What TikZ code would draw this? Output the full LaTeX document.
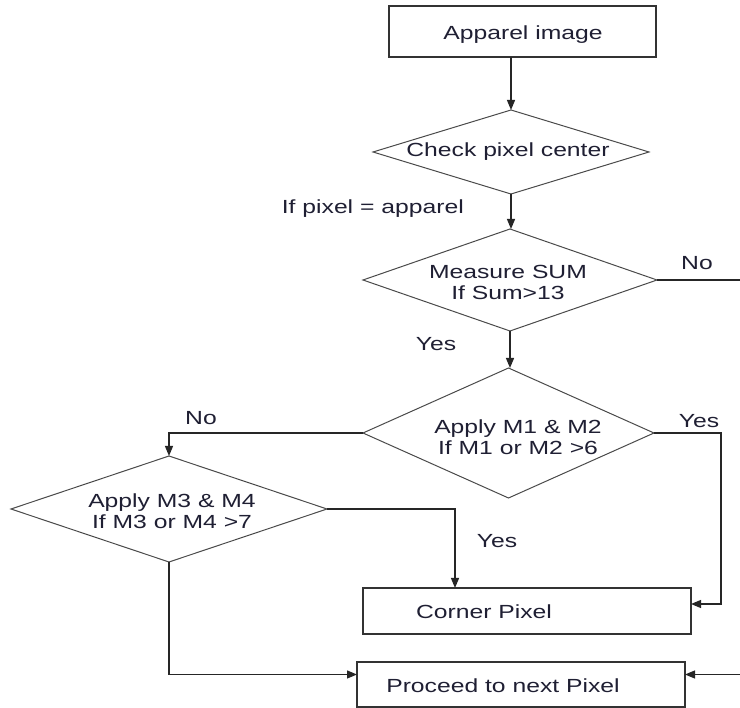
\documentclass[tikz,border=0pt]{standalone}
\usepackage{fontspec}
\setmainfont{Liberation Sans}[FakeStretch=1.3]
\usetikzlibrary{shapes.geometric,arrows.meta}

\definecolor{ink}{HTML}{1F1F33}
\definecolor{boxline}{HTML}{333333}
\definecolor{dline}{HTML}{4A4A4A}

\begin{document}
\begin{tikzpicture}[x=1pt,y=-1pt,
  txt/.style={font=\fontsize{19}{21}\selectfont, text=ink, inner sep=0pt, align=center},
  box/.style={draw=boxline, line width=1.3pt, rectangle, inner sep=0pt, outer sep=0pt},
  decision/.style={draw=dline, line width=1pt, diamond, inner sep=0pt, outer sep=0pt},
  flow/.style={draw=black!85, line width=1.2pt, -{Triangle[length=10pt,width=8pt]}},
  plain/.style={draw=black!85, line width=1.2pt}]

\useasboundingbox[fill=white] (0,0) rectangle (740,708);

% process boxes
\node[box, minimum width=267pt, minimum height=51pt] (src) at (522.5,31.5) {};
\node[txt] (srctxt) at (523,35) {Apparel image};

\node[box, minimum width=328pt, minimum height=46pt] (corner) at (527,611) {};
\node[txt] (cornertxt) at (484,612) {Corner Pixel};

\node[box, minimum width=328pt, minimum height=45pt] (proceed) at (521,684.5) {};
\node[txt] (proceedtxt) at (503,686) {Proceed to next Pixel};

% decisions
\node[decision, minimum width=276pt, minimum height=84pt] (d1) at (511,152) {};
\node[txt] (d1txt) at (508,152) {Check pixel center};

\node[decision, minimum width=294pt, minimum height=102pt] (d2) at (510,280) {};
\node[txt] (d2txt) at (508,282) {Measure SUM\\If Sum>13};

\node[decision, minimum width=291pt, minimum height=130pt] (d3) at (508.5,433) {};
\node[txt] (d3txt) at (518,437) {Apply M1 \& M2\\If M1 or M2 >6};

\node[decision, minimum width=316pt, minimum height=106pt] (d4) at (169,509) {};
\node[txt] (d4txt) at (172,511) {Apply M3 \& M4\\If M3 or M4 >7};

% loose ends at the right margin
\coordinate (exitR) at (740,280);
\coordinate (bendR) at (721,433);
\coordinate (feedR) at (740,674.5);

% connectors
\draw[flow] (src.south -| d1.north) -- (d1.north);
\draw[flow] (d1.south) -- (d1.south |- d2.north);
\draw[plain] (d2.east) -- (exitR);
\draw[flow] (d2.south) -- (d2.south |- d3.north);
\draw[flow] (d3.west) -| (d4.north);
\draw[flow] (d3.east) -- (bendR) |- ([yshift=7pt]corner.east);
\draw[flow] (d4.east) -| ([xshift=-72pt]corner.north);
\draw[flow] (d4.south) |- ([yshift=10pt]proceed.west);
\draw[flow] (feedR) -- ([yshift=10pt]proceed.east);

% branch labels
\node[txt, anchor=east] (lblpix) at (464,209) {If pixel = apparel};
\node[txt] (lblno1) at (697,263) {No};
\node[txt] (lblyes1) at (436,344) {Yes};
\node[txt] (lblno2) at (201,418) {No};
\node[txt] (lblyes2) at (699,421) {Yes};
\node[txt] (lblyes3) at (497,541) {Yes};
\end{tikzpicture}
\end{document}
